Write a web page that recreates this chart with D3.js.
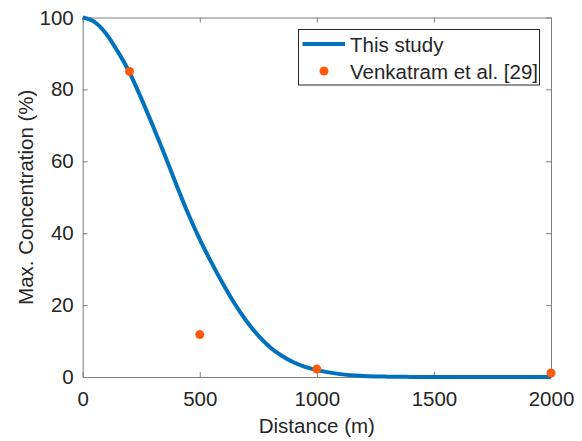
<!DOCTYPE html>
<html>
<head>
<meta charset="utf-8">
<script src="https://cdn.jsdelivr.net/npm/d3@7"></script>
<style>
  body { margin: 0; background: #fff; }
  svg text { font-family: "Liberation Sans", Arial, sans-serif; fill: #262626; }
</style>
</head>
<body>
<svg id="chart" width="582" height="441"></svg>
<script>
// curve (This study)
const studyDist = [0, 50, 100, 150, 200, 250, 300, 350, 400, 450, 500, 550, 600, 650, 700, 750, 800, 850, 900, 950, 1000, 1100, 1200, 1300, 1400, 1500, 1750, 2000];
const studyConc = [100, 98.8, 95.5, 90.5, 84.7, 77.5, 69.8, 61.8, 53.5, 45.5, 38.3, 31.8, 25.8, 20.3, 15.5, 11.5, 8.3, 5.9, 4.1, 2.8, 1.9, 0.8, 0.3, 0.1, 0.03, 0, 0, 0];

// Venkatram et al. [29]
const refDist = [200, 500, 1000, 2000];
const refConc = [85, 11.8, 2.2, 1.1];

const xTicks = [0, 500, 1000, 1500, 2000];
const yTicks = [0, 20, 40, 60, 80, 100];

const svg = d3.select('#chart');
const margin = { top: 17.5, right: 31, bottom: 64, left: 82.7 };
const W = 582 - margin.left - margin.right;
const H = 441 - margin.top - margin.bottom;

const x = d3.scaleLinear().domain([0, 2000]).range([0, W]);
const y = d3.scaleLinear().domain([0, 100]).range([H, 0]);

const g = svg.append('g').attr('transform', `translate(${margin.left},${margin.top})`);

const axisColor = '#7f7f7f';
const fontSize = '20.5px';
const fmt = d3.format('d');

// axes with inward ticks, mirrored on top and right
function styleAxis(sel, showLabels) {
  sel.select('.domain').attr('stroke', axisColor);
  sel.selectAll('.tick line').attr('stroke', axisColor);
  sel.selectAll('.tick text').style('font-size', fontSize).attr('fill', '#262626');
  if (!showLabels) sel.selectAll('.tick text').remove();
}

g.append('g').attr('transform', `translate(0,${H})`)
  .call(d3.axisBottom(x).tickValues(xTicks).tickFormat(fmt).tickSizeInner(-5).tickSizeOuter(0).tickPadding(14))
  .call(s => styleAxis(s, true));
g.append('g')
  .call(d3.axisTop(x).tickValues(xTicks).tickSizeInner(-5).tickSizeOuter(0))
  .call(s => styleAxis(s, false));
g.append('g')
  .call(d3.axisLeft(y).tickValues(yTicks).tickFormat(fmt).tickSizeInner(-5).tickSizeOuter(0).tickPadding(9))
  .call(s => styleAxis(s, true));
g.append('g').attr('transform', `translate(${W},0)`)
  .call(d3.axisRight(y).tickValues(yTicks).tickSizeInner(-5).tickSizeOuter(0))
  .call(s => styleAxis(s, false));

// axis titles
svg.append('text')
  .attr('x', margin.left + W / 2).attr('y', 433)
  .attr('text-anchor', 'middle')
  .style('font-size', fontSize)
  .text('Distance (m)');
svg.append('text')
  .attr('transform', `translate(33,${margin.top + H / 2}) rotate(-90)`)
  .attr('text-anchor', 'middle')
  .style('font-size', fontSize)
  .text('Max. Concentration (%)');

// line
const line = d3.line()
  .x((d, i) => x(studyDist[i]))
  .y(d => y(d))
  .curve(d3.curveMonotoneX);

g.append('path')
  .datum(studyConc)
  .attr('fill', 'none')
  .attr('stroke', '#0072BD')
  .attr('stroke-width', 4)
  .attr('d', line);

// points
g.selectAll('.ref-pt')
  .data(refConc)
  .enter().append('circle')
  .attr('class', 'ref-pt')
  .attr('cx', (d, i) => x(refDist[i]))
  .attr('cy', d => y(d))
  .attr('r', 4.5)
  .attr('fill', '#FF5A0A');

// legend
const lg = svg.append('g').attr('transform', 'translate(298.5,29.5)');
lg.append('rect')
  .attr('width', 241).attr('height', 55.5)
  .attr('fill', '#fff').attr('stroke', '#262626').attr('stroke-width', 1);
lg.append('line')
  .attr('x1', 4).attr('x2', 46.5).attr('y1', 14.5).attr('y2', 14.5)
  .attr('stroke', '#0072BD').attr('stroke-width', 4);
lg.append('text').attr('x', 51.5).attr('y', 22).style('font-size', fontSize).text('This study');
lg.append('circle').attr('cx', 25.5).attr('cy', 41.5).attr('r', 4.5).attr('fill', '#FF5A0A');
lg.append('text').attr('x', 51.5).attr('y', 49.5).style('font-size', fontSize).text('Venkatram et al. [29]');
</script>
</body>
</html>
